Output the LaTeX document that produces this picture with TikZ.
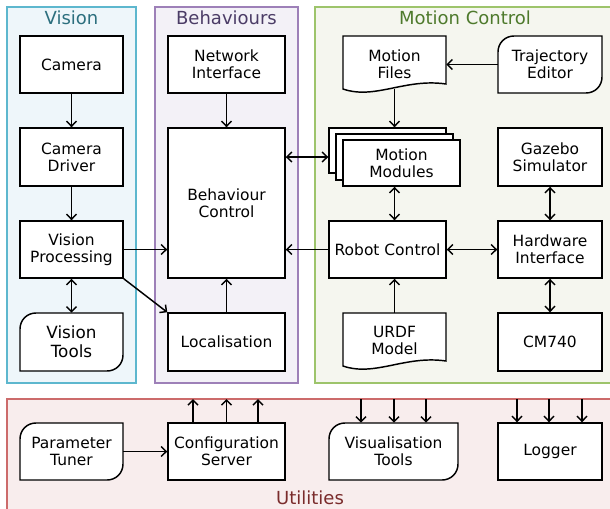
\documentclass[tikz,border=0pt]{standalone}
\usepackage{fontspec}
\setmainfont{DejaVu Sans}
\usetikzlibrary{arrows.meta,fit}
\definecolor{visfill}{HTML}{EEF6FA}
\definecolor{visline}{HTML}{5DB7CE}
\definecolor{vistext}{HTML}{2C6F7E}
\definecolor{behfill}{HTML}{F3F1F7}
\definecolor{behline}{HTML}{9D80B8}
\definecolor{behtext}{HTML}{4B3C66}
\definecolor{motfill}{HTML}{F5F6EF}
\definecolor{motline}{HTML}{9DC46B}
\definecolor{mottext}{HTML}{4E7A2C}
\definecolor{utifill}{HTML}{F8EDED}
\definecolor{utiline}{HTML}{CC6B6B}
\definecolor{utitext}{HTML}{7A2B2B}
\newcommand\mynodefont{\fontsize{11.6}{12.75}\selectfont}
\newcommand\mybigfont{\fontsize{12.6}{14.2}\selectfont}
\newcommand\mytitlefont{\fontsize{13.5}{15}\selectfont}
\newcommand\rndshape[4]{\draw[shp] (#1,#4) -- (#1,#2+16) .. controls (#1,#2+7) and (#1+7,#2) .. (#1+16,#2) -- (#3,#2) -- (#3,#4-16) .. controls (#3,#4-7) and (#3-7,#4) .. (#3-16,#4) -- cycle;}
\newcommand\docshape[3]{\draw[shp] (#1,#2) -- (#3,#2) -- (#3,#2+48) .. controls (#3-41,#2+42) and (#1+32,#2+64) .. (#1,#2+53) -- cycle;}
\tikzset{
  grp/.style={line width=1.2pt},
  box/.style={draw, line width=1.1pt, fill=white, inner sep=0pt},
  area/.style={inner sep=0pt},
  txt/.style={inner sep=0pt, align=center, font=\mynodefont},
  shp/.style={draw, line width=1.1pt, fill=white},
  ttl/.style={font=\mytitlefont, anchor=base, inner sep=0pt},
  tip/.tip={Straight Barb[length=3.8pt,width=7.5pt]},
  arr/.style={-tip, line width=1.1pt},
  dbl/.style={tip-tip, line width=1.1pt}
}
\begin{document}
\begin{tikzpicture}[x=0.75pt,y=-0.75pt]
\clip (0,0) rectangle (610,508);
\fill[white] (0,0) rectangle (610,508);
% groups
\draw[grp, draw=visline, fill=visfill] (7,7) rectangle (136,383);
\draw[grp, draw=behline, fill=behfill] (155,7) rectangle (298,383);
\draw[grp, draw=motline, fill=motfill] (315,7) rectangle (614,383);
\draw[grp, draw=utiline, fill=utifill] (7,399) rectangle (614,520);
\node[ttl, text=vistext] (tvis) at (71.5,24) {Vision};
\node[ttl, text=behtext] (tbeh) at (226.5,24) {Behaviours};
\node[ttl, text=mottext] (tmot) at (465,24) {Motion Control};
\node[ttl, text=utitext] (tuti) at (310,504) {Utilities};
% vision
\node[box, fit={(20,36) (123,93)}] (cam) {};
\node[txt] (camt) at (cam) {Camera};
\node[box, fit={(20,128) (123,186)}] (drv) {};
\node[txt] (drvt) at (drv) {Camera\\Driver};
\node[box, fit={(20,221) (123,278)}] (vp) {};
\node[txt] (vpt) at (vp) {Vision\\Processing};
\rndshape{20}{313}{123}{371}
\node[area, fit={(20,313) (123,371)}] (vt) {};
\node[txt, font=\mybigfont] (vtt) at (vt) {Vision\\Tools};
% behaviours
\node[box, fit={(168,36) (285,93)}] (ni) {};
\node[txt] (nit) at (ni) {Network\\Interface};
\node[box, fit={(168,128) (285,278)}] (bc) {};
\node[txt] (bct) at (bc) {Behaviour\\Control};
\node[box, fit={(168,313) (285,371)}] (loc) {};
\node[txt] (loct) at (loc) {Localisation};
% motion control
\docshape{343}{36}{446}
\node[area, fit={(343,36) (446,89)}] (mf) {};
\node[txt] (mft) at ([yshift=-1pt]mf.center) {Motion\\Files};
\rndshape{498}{36}{602}{93}
\node[area, fit={(498,36) (602,93)}] (te) {};
\node[txt] (tet) at (te) {Trajectory\\Editor};
\node[box, fit={(329,128) (446,173)}] (mm3) {};
\node[box, fit={(336,134) (453,180)}] (mm2) {};
\node[box, fit={(343,140) (460,186)}] (mm1) {};
\node[txt] (mmt) at (mm1) {Motion\\Modules};
\node[box, fit={(498,128) (602,186)}] (gz) {};
\node[txt] (gzt) at (gz) {Gazebo\\Simulator};
\node[box, fit={(329,221) (446,278)}] (rc) {};
\node[txt] (rct) at (rc) {Robot Control};
\node[box, fit={(498,221) (602,278)}] (hw) {};
\node[txt] (hwt) at (hw) {Hardware\\Interface};
\docshape{343}{313}{446}
\node[area, fit={(343,313) (446,366)}] (ur) {};
\node[txt] (urt) at ([yshift=-1pt]ur.center) {URDF\\Model};
\node[box, fit={(498,313) (602,371)}] (cm) {};
\node[txt] (cmt) at (cm) {CM740};
% utilities
\rndshape{20}{423}{123}{480}
\node[area, fit={(20,423) (123,480)}] (pt) {};
\node[txt] (ptt) at (pt) {Parameter\\Tuner};
\node[box, fit={(168,423) (285,480)}] (cs) {};
\node[txt] (cst) at (cs) {Configuration\\Server};
\rndshape{329}{423}{458}{480}
\node[area, fit={(329,423) (458,480)}] (vis) {};
\node[txt] (vist) at (vis) {Visualisation\\Tools};
\node[box, fit={(498,423) (602,480)}] (lg) {};
\node[txt] (lgt) at (lg) {Logger};
\coordinate (u1) at (193,399);
\coordinate (u2) at (226.5,399);
\coordinate (u3) at (258,399);
\coordinate (v1) at (361,399);
\coordinate (v2) at (394,399);
\coordinate (v3) at (426,399);
\coordinate (l1) at (517,399);
\coordinate (l2) at (549,399);
\coordinate (l3) at (582,399);
% connectors
\draw[arr] (cam) -- (drv);
\draw[arr] (drv) -- (vp);
\draw[dbl] (vp) -- (vt.north);
\draw[arr] (vp.east) -- (vp.east -| bc.west);
\draw[arr] (vp.south east) -- (loc.north west);
\draw[arr] (ni) -- (bc);
\draw[arr] (loc) -- (bc);
\draw[dbl] (bc.east |- mm2.center) -- (mm3.west |- mm2.center);
\draw[arr] (rc.west) -- (rc.west -| bc.east);
\draw[arr] (te.west) -- (te.west -| mf.east);
\draw[arr] (mf.south) -- (mf.south |- mm3.north);
\draw[dbl] (mf.south |- mm1.south) -- (mf.south |- rc.north);
\draw[arr] (ur.north) -- (ur.north |- rc.south);
\draw[dbl] (rc) -- (hw);
\draw[dbl] (gz) -- (hw);
\draw[dbl] (hw) -- (cm);
\draw[arr] (pt) -- (cs);
\foreach \c in {u1,u2,u3} \draw[arr] (\c |- cs.north) -- (\c);
\foreach \c in {v1,v2,v3} \draw[arr] (\c) -- (\c |- vis.north);
\foreach \c in {l1,l2,l3} \draw[arr] (\c) -- (\c |- lg.north);
\end{tikzpicture}
\end{document}
